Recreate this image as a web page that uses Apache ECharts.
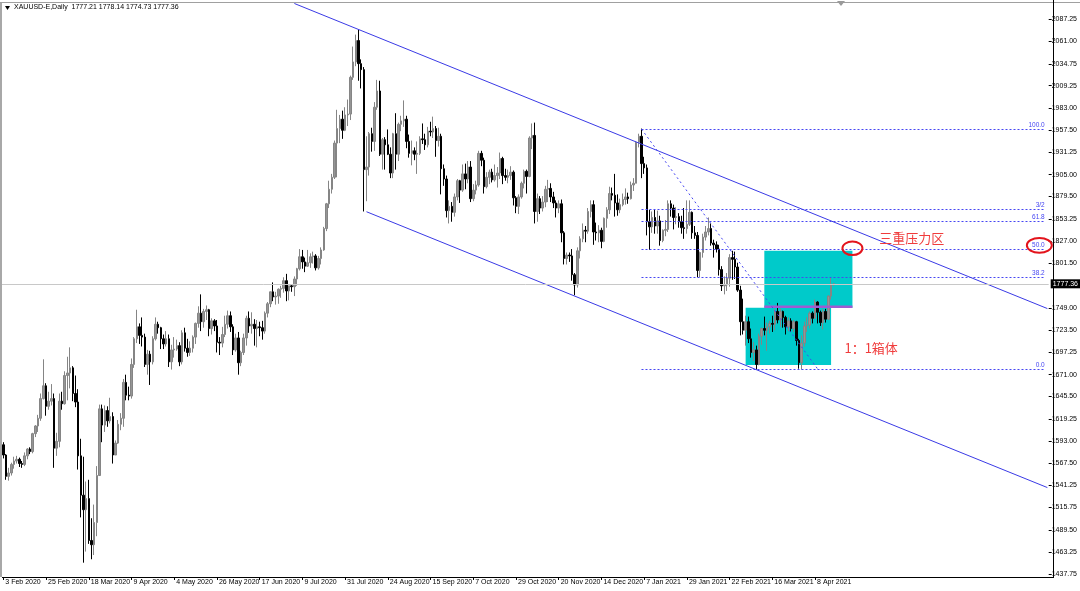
<!DOCTYPE html>
<html><head><meta charset="utf-8">
<script src="https://cdn.jsdelivr.net/npm/echarts@6/dist/echarts.min.js"></script>
<style>html,body{margin:0;padding:0;background:#fff;}#c{width:1080px;height:591px;}</style>
</head><body><div id="c"></div>
<script>
// ---------------- data ----------------
const symbolTitle = 'XAUUSD-E,Daily';
const lastBarOHLC = ['1777.21', '1778.14', '1774.73', '1777.36'];
const lastPrice = 1777.36;
const startDay = [2020, 1, 3];
const holidays = ['2020-04-10', '2020-12-25', '2021-01-01', '2021-04-02'];
const totalSlots = 392;
const monthNames = ['Jan','Feb','Mar','Apr','May','Jun','Jul','Aug','Sep','Oct','Nov','Dec'];
const xTickLabels = ['3 Feb 2020','25 Feb 2020','18 Mar 2020','9 Apr 2020','4 May 2020','26 May 2020','17 Jun 2020','9 Jul 2020','31 Jul 2020','24 Aug 2020','15 Sep 2020','7 Oct 2020','29 Oct 2020','20 Nov 2020','14 Dec 2020','7 Jan 2021','29 Jan 2021','22 Feb 2021','16 Mar 2021','8 Apr 2021'];
const yTickLabels = ['1437.75','1463.25','1489.50','1515.75','1541.25','1567.50','1593.00','1619.25','1645.50','1671.00','1697.25','1723.50','1749.00','1801.50','1827.00','1853.25','1879.50','1905.00','1931.25','1957.50','1983.00','2009.25','2034.75','2061.00','2087.25'];
const yMin = 1437.75, yMax = 2087.25;

const opens = [1589,1577,1552,1556,1566,1570,1572,1567,1566,1576,1584,1581,1602,1611,1620,1643,1658,1634,1640,1643,
1585,1593,1640,1637,1670,1673,1679,1649,1639,1576,1530,1513,1526,1477,1472,1498,1553,1631,1612,1629,
1617,1622,1577,1591,1613,1620,1662,1647,1646,1683,1713,1727,1717,1715,1683,1695,1686,1713,1730,1726,
1713,1707,1713,1686,1700,1701,1705,1686,1720,1702,1697,1702,1715,1731,1743,1733,1745,1747,1725,1734,
1728,1709,1708,1718,1730,1740,1727,1700,1714,1685,1697,1714,1737,1728,1730,1725,1727,1726,1722,1743,
1754,1768,1762,1763,1771,1772,1781,1769,1775,1774,1783,1795,1809,1803,1798,1802,1809,1810,1796,1807,
1817,1842,1871,1888,1902,1942,1959,1970,1957,1975,1976,2019,2037,2062,2035,2028,1911,1914,1953,1944,
1984,2003,1929,1946,1940,1929,1907,1953,1929,1964,1968,1970,1944,1930,1933,1929,1930,1947,1946,1940,
1956,1955,1959,1945,1950,1912,1900,1863,1868,1861,1879,1898,1887,1906,1900,1914,1877,1887,1893,1930,
1922,1891,1902,1908,1899,1904,1907,1924,1904,1902,1904,1908,1878,1868,1879,1895,1909,1903,1948,1951,
1862,1877,1866,1873,1888,1889,1879,1872,1866,1871,1837,1807,1811,1810,1788,1776,1816,1830,1840,1839,
1862,1870,1838,1837,1840,1827,1854,1864,1883,1881,1872,1864,1870,1876,1879,1877,1893,1895,1943,1950,
1918,1913,1850,1844,1855,1845,1851,1828,1840,1841,1871,1866,1855,1856,1850,1843,1842,1847,1861,1837,
1834,1793,1814,1832,1838,1842,1825,1823,1818,1794,1775,1776,1784,1808,1806,1797,1770,1733,1723,1733,
1713,1697,1700,1683,1716,1725,1723,1727,1731,1730,1745,1735,1745,1738,1727,1734,1725,1733,1711,1685,
1708,1728,1729,1743,1737,1756,1744,1732,1745,1736,1763,1777.21];
const highs = [1592,1578,1562,1568,1575,1576,1574,1570,1580,1585,1586,1603,1612,1624,1649,1689,1661,1651,1660,1649,
1603,1649,1651,1675,1692,1703,1681,1670,1654,1596,1575,1546,1548,1503,1519,1564,1636,1636,1635,1634,
1644,1627,1594,1618,1626,1666,1671,1657,1690,1715,1747,1731,1738,1719,1700,1699,1716,1738,1733,1727,
1718,1722,1718,1706,1715,1712,1709,1723,1726,1713,1710,1717,1732,1751,1765,1748,1752,1748,1737,1736,
1735,1715,1727,1740,1746,1745,1730,1719,1721,1699,1719,1740,1745,1744,1736,1735,1733,1734,1745,1756,
1768,1779,1768,1772,1775,1785,1789,1775,1777,1786,1796,1818,1817,1808,1817,1813,1815,1812,1810,1820,
1844,1872,1898,1906,1945,1981,1975,1980,1984,1993,2021,2055,2069,2075,2040,2031,1950,1955,1960,1990,
2016,2015,1948,1949,1958,1937,1954,1977,1966,1974,1992,1974,1952,1945,1937,1944,1950,1965,1953,1961,
1967,1973,1962,1960,1953,1917,1904,1875,1873,1883,1900,1899,1917,1918,1921,1921,1894,1898,1933,1933,
1925,1908,1911,1912,1917,1914,1931,1926,1912,1911,1915,1910,1880,1882,1897,1911,1911,1950,1965,1966,
1883,1880,1880,1892,1899,1895,1885,1875,1875,1876,1839,1814,1814,1818,1790,1820,1833,1848,1845,1866,
1875,1875,1849,1846,1843,1855,1867,1891,1890,1906,1882,1877,1883,1889,1884,1897,1901,1944,1953,1959,
1926,1917,1864,1862,1864,1863,1857,1841,1852,1875,1875,1870,1867,1860,1857,1866,1875,1875,1862,1845,
1838,1815,1836,1845,1855,1848,1829,1827,1823,1798,1786,1790,1812,1816,1815,1802,1775,1760,1740,1739,
1725,1709,1705,1719,1726,1739,1732,1734,1740,1748,1755,1748,1746,1740,1738,1737,1735,1734,1713,1717,
1733,1738,1745,1745,1759,1757,1746,1748,1748,1764,1785,1778.14];
const lows = [1573,1548,1547,1553,1561,1567,1563,1562,1564,1572,1578,1579,1598,1604,1617,1642,1623,1630,1635,1562,
1576,1586,1630,1636,1641,1655,1640,1633,1560,1504,1451,1464,1473,1455,1460,1482,1553,1592,1604,1610,
1614,1567,1577,1590,1606,1610,1641,1641,1643,1679,1708,1707,1704,1680,1671,1659,1683,1711,1719,1701,
1701,1704,1680,1677,1691,1699,1681,1683,1698,1692,1693,1697,1707,1726,1722,1726,1735,1716,1718,1722,
1697,1694,1703,1715,1725,1721,1694,1698,1671,1681,1694,1705,1720,1719,1705,1703,1716,1712,1719,1738,
1750,1757,1753,1754,1761,1767,1757,1758,1768,1763,1775,1793,1795,1791,1797,1796,1801,1793,1794,1800,
1816,1839,1866,1883,1900,1902,1942,1947,1956,1962,1969,2016,2032,2015,2006,1862,1874,1904,1932,1933,
1981,1927,1911,1911,1928,1901,1901,1911,1921,1956,1961,1936,1925,1916,1922,1906,1928,1941,1934,1937,
1950,1948,1926,1938,1882,1892,1855,1848,1850,1856,1875,1872,1885,1888,1895,1873,1874,1882,1891,1915,
1883,1889,1894,1896,1897,1890,1900,1894,1898,1895,1899,1869,1860,1859,1877,1889,1883,1902,1935,1848,
1850,1859,1862,1867,1873,1873,1866,1855,1860,1826,1800,1800,1803,1781,1764,1773,1807,1826,1826,1836,
1855,1823,1828,1826,1819,1826,1843,1859,1875,1856,1857,1860,1868,1870,1871,1876,1886,1895,1937,1901,
1906,1834,1817,1837,1836,1836,1822,1826,1833,1838,1856,1841,1847,1843,1836,1830,1836,1845,1830,1830,
1785,1785,1808,1828,1834,1822,1808,1814,1787,1769,1765,1769,1774,1782,1783,1768,1717,1718,1705,1708,
1691,1687,1677,1682,1706,1717,1699,1719,1721,1723,1731,1727,1726,1718,1722,1721,1721,1705,1678,1677,
1704,1721,1725,1731,1736,1731,1728,1724,1732,1735,1759,1774.73];
const closes = [1577,1552,1556,1566,1570,1572,1567,1566,1576,1584,1581,1602,1611,1620,1643,1658,1634,1640,1643,1585,
1593,1640,1637,1670,1673,1679,1649,1639,1576,1530,1513,1526,1477,1472,1498,1553,1631,1612,1629,1617,
1622,1577,1591,1613,1620,1662,1647,1646,1683,1713,1727,1717,1715,1683,1695,1686,1713,1730,1726,1713,
1707,1713,1686,1700,1701,1705,1686,1720,1702,1697,1702,1715,1731,1743,1733,1745,1747,1725,1734,1728,
1709,1708,1718,1730,1740,1727,1700,1714,1685,1697,1714,1737,1728,1730,1725,1727,1726,1722,1743,1754,
1768,1762,1763,1771,1772,1781,1769,1775,1774,1783,1795,1809,1803,1798,1802,1809,1810,1796,1807,1817,
1842,1871,1888,1902,1942,1959,1970,1957,1975,1976,2019,2037,2062,2035,2028,1911,1914,1953,1944,1984,
2003,1929,1946,1940,1929,1907,1953,1929,1964,1968,1970,1944,1930,1933,1929,1930,1947,1946,1940,1956,
1955,1959,1945,1950,1912,1900,1863,1868,1861,1879,1898,1887,1906,1900,1914,1877,1887,1893,1930,1922,
1891,1902,1908,1899,1904,1907,1924,1904,1902,1904,1908,1878,1868,1879,1895,1909,1903,1948,1951,1862,
1877,1866,1873,1888,1889,1879,1872,1866,1871,1837,1807,1811,1810,1788,1776,1816,1830,1840,1839,1862,
1870,1838,1837,1840,1827,1854,1864,1883,1881,1872,1864,1870,1876,1879,1877,1893,1895,1943,1950,1918,
1913,1850,1844,1855,1845,1851,1828,1840,1841,1871,1866,1855,1856,1850,1843,1842,1847,1861,1837,1834,
1793,1814,1832,1838,1842,1825,1823,1818,1794,1775,1776,1784,1808,1806,1797,1770,1733,1723,1733,1713,
1697,1700,1683,1716,1725,1723,1727,1731,1730,1745,1735,1745,1738,1727,1734,1725,1733,1711,1685,1708,
1728,1729,1743,1737,1756,1744,1732,1745,1736,1763,1777,1777.36];

// drawn objects (bar index, price)
const channelUpper = [[109, 2105.4], [391, 1748.4]];
const channelLower = [[136, 1861.7], [391, 1538.9]];
const fibLevels = [1677.6, 1785.3, 1818.5, 1851.2, 1864.5, 1958.5];
const fibNames = ['0.0', '38.2', '50.0', '61.8', '3/2', '100.0'];
const fibSpan = [239, 390];
const fibDiagonal = [[239, 1958.5], [305, 1677.6]];
const boxes = [[278, 1749.4, 310, 1682.3], [285, 1816.1, 318, 1749.4]];
const boxBase = [[285, 1750.4], [318, 1750.4]];
const ellipseCenters = [[318, 1818.9], [388, 1822.4]];
const notes = [['三重压力区', 328, 1831], ['1：1箱体', 315, 1702]];

// ---------------- build ----------------
function buildDates() {
  const out = [];
  const d = new Date(Date.UTC(startDay[0], startDay[1], startDay[2]));
  while (out.length < totalSlots) {
    const wd = d.getUTCDay();
    const iso = d.toISOString().slice(0, 10);
    if (wd !== 0 && wd !== 6 && holidays.indexOf(iso) < 0) {
      out.push(d.getUTCDate() + ' ' + monthNames[d.getUTCMonth()] + ' ' + d.getUTCFullYear());
    }
    d.setUTCDate(d.getUTCDate() + 1);
  }
  return out;
}
const dates = buildDates();
const candles = opens.map((o, i) => [o, closes[i], lows[i], highs[i]]);
const yTicks = yTickLabels.map(Number);
const showX = (idx, val) => xTickLabels.indexOf(val) >= 0;
const FONT = '"Liberation Sans Narrow","Liberation Sans",Arial,sans-serif';
const BLUE = '#3a3ae6';
const FIBBLUE = '#4646f2';

const chart = echarts.init(document.getElementById('c'), null, {renderer: 'canvas'});
chart.setOption({
  animation: false,
  backgroundColor: '#ffffff',
  grid: {left: 2, right: 26, top: 19, bottom: 17},
  xAxis: {
    type: 'category', data: dates, boundaryGap: true, offset: 3,
    axisLine: {show: false},
    axisTick: {show: true, interval: showX, alignWithLabel: true, length: 3, lineStyle: {color: '#000'}},
    axisLabel: {interval: showX, align: 'left', margin: 2, padding: [0, 0, 0, 2], fontSize: 7, color: '#000', fontFamily: FONT},
    splitLine: {show: false}
  },
  yAxis: {
    type: 'value', position: 'right', min: yMin, max: yMax,
    axisLine: {show: false},
    axisTick: {show: true, length: 3, customValues: yTicks, lineStyle: {color: '#000'}},
    axisLabel: {customValues: yTicks, formatter: v => v.toFixed(2), fontSize: 7, margin: 3, color: '#000', fontFamily: FONT},
    splitLine: {show: false}
  },
  graphic: [
    {type: 'line', shape: {x1: 0, y1: 2.5, x2: 1080, y2: 2.5}, style: {stroke: '#a0a0a0', lineWidth: 1}, silent: true},
    {type: 'rect', shape: {x: 0, y: 3, width: 2, height: 574}, style: {fill: '#a8a8a8'}, silent: true},
    {type: 'line', shape: {x1: 2, y1: 577.5, x2: 1054, y2: 577.5}, style: {stroke: '#000', lineWidth: 1}, silent: true},
    {type: 'line', shape: {x1: 1053.5, y1: 0, x2: 1053.5, y2: 578}, style: {stroke: '#000', lineWidth: 1}, silent: true},
    {type: 'polygon', shape: {points: [[837, 1], [845, 1], [841, 6]]}, style: {fill: '#9a9a9a'}, silent: true},
    {type: 'polygon', shape: {points: [[5, 6], [10, 6], [7.5, 10]]}, style: {fill: '#000'}, silent: true},
    {type: 'text', x: 14, y: 4, style: {text: symbolTitle + '  ' + lastBarOHLC.join(' '), fontSize: 7, fontFamily: FONT, fill: '#000'}, silent: true}
  ],
  series: [
    {
      type: 'custom', name: 'boxes', z: 1, clip: false, silent: true,
      data: boxes, encode: {x: [0, 2], y: [1, 3]},
      renderItem: (params, api) => {
        const b = boxes[params.dataIndex];
        const p1 = api.coord([b[0], b[1]]), p2 = api.coord([b[2], b[3]]);
        return {type: 'rect', shape: {x: Math.min(p1[0], p2[0]), y: Math.min(p1[1], p2[1]), width: Math.abs(p2[0] - p1[0]), height: Math.abs(p2[1] - p1[1])}, style: {fill: '#00caca'}};
      }
    },
    {
      type: 'candlestick', name: 'XAUUSD', z: 2, data: candles, barWidth: 2,
      itemStyle: {color: '#959595', color0: '#000000', borderColor: '#858585', borderColor0: '#000000', borderWidth: 1},
      markLine: {
        silent: true, symbol: 'none', animation: false,
        data: [{yAxis: lastPrice}],
        lineStyle: {color: '#c8c8c8', type: 'solid', width: 1},
        label: {position: 'end', formatter: lastPrice.toFixed(2), backgroundColor: '#000', color: '#fff', fontSize: 7, fontFamily: FONT, padding: [1, 2], distance: 2}
      }
    },
    {type: 'line', name: 'boxBase', z: 3, data: boxBase, showSymbol: false, symbol: 'none', silent: true, clip: false, lineStyle: {color: '#a05ad2', width: 2.5}},
    {type: 'line', name: 'channelUpper', z: 4, data: channelUpper, showSymbol: false, symbol: 'none', silent: true, clip: false, lineStyle: {color: BLUE, width: 1}},
    {type: 'line', name: 'channelLower', z: 4, data: channelLower, showSymbol: false, symbol: 'none', silent: true, clip: false, lineStyle: {color: BLUE, width: 1}},
    {type: 'line', name: 'fibBase', z: 4, data: fibDiagonal, showSymbol: false, symbol: 'none', silent: true, clip: false, lineStyle: {color: FIBBLUE, width: 1, type: [2, 3]}},
    {
      type: 'custom', name: 'fib', z: 4, clip: false, silent: true,
      data: fibLevels.map(p => [fibSpan[0], p, fibSpan[1]]), encode: {x: [0, 2], y: 1},
      renderItem: (params, api) => {
        const k = params.dataIndex;
        const a = api.coord([fibSpan[0], fibLevels[k]]), b = api.coord([fibSpan[1], fibLevels[k]]);
        const yy = Math.round(a[1]) + 0.5;
        return {type: 'group', children: [
          {type: 'line', shape: {x1: a[0], y1: yy, x2: b[0], y2: yy}, style: {stroke: FIBBLUE, lineWidth: 1, lineDash: [2, 2]}},
          {type: 'text', x: b[0], y: yy - 1, style: {text: fibNames[k], fill: FIBBLUE, fontSize: 6.5, fontFamily: FONT, align: 'right', verticalAlign: 'bottom'}}
        ]};
      }
    },
    {
      type: 'custom', name: 'rings', z: 5, clip: false, silent: true,
      data: ellipseCenters, encode: {x: 0, y: 1},
      renderItem: (params, api) => {
        const c = api.coord(ellipseCenters[params.dataIndex]);
        const r = params.dataIndex === 0 ? [10, 6.8] : [12.5, 7.4];
        return {type: 'ellipse', shape: {cx: c[0], cy: c[1], rx: r[0], ry: r[1]}, style: {fill: 'none', stroke: '#e3141c', lineWidth: 2}};
      }
    },
    {
      type: 'custom', name: 'notes', z: 5, clip: false, silent: true,
      data: notes.map(n => [n[1], n[2]]), encode: {x: 0, y: 1},
      renderItem: (params, api) => {
        const n = notes[params.dataIndex];
        const c = api.coord([n[1], n[2]]);
        return {type: 'text', x: c[0], y: c[1], style: {text: n[0], fill: '#f03c3c', fontSize: 13, fontFamily: '"Noto Sans CJK SC",sans-serif', align: 'left', verticalAlign: 'middle'}};
      }
    }
  ]
});
</script>
</body></html>
